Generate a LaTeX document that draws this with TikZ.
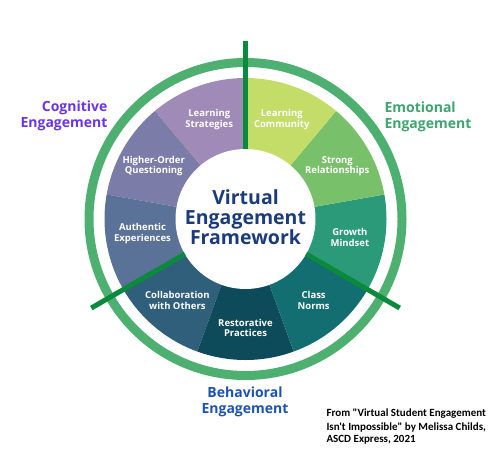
\documentclass[tikz,border=0pt]{standalone}
\usepackage{fontspec}
\setmainfont{Open Sans}
\newfontfamily\citefont{Carlito}
\usepackage{tikz}
\usetikzlibrary{positioning}
\definecolor{lstrat}{HTML}{A08BB8}
\definecolor{hoq}{HTML}{7B7CA8}
\definecolor{authexp}{HTML}{5A7198}
\definecolor{collab}{HTML}{2F5F7A}
\definecolor{restor}{HTML}{0E4B5A}
\definecolor{cnorms}{HTML}{126E70}
\definecolor{growth}{HTML}{2A9A78}
\definecolor{strongrel}{HTML}{79C06A}
\definecolor{lcomm}{HTML}{C4DD68}
\definecolor{ringgreen}{HTML}{4DB070}
\definecolor{divgreen}{HTML}{0B8A3E}
\definecolor{titleblue}{HTML}{1B3B7B}
\definecolor{cogpurple}{HTML}{6B35E5}
\definecolor{emogreen}{HTML}{3DA56F}
\definecolor{behblue}{HTML}{1D52B5}
\tikzset{
  segtext/.style={text=white, align=center, font=\bfseries\fontsize{9.5}{10.5}\selectfont},
  dimension/.style={align=center, font=\bfseries\fontsize{14}{16}\selectfont},
  divider/.style={divgreen, line width=5pt}
}

\begin{document}
\begin{tikzpicture}[x=1pt,y=1pt]
    \useasboundingbox (0,0) rectangle (500,448);
    \coordinate (c) at (245.5,229);
    % wheel segments
    \foreach \a/\col in {90/lstrat,130/hoq,170/authexp,210/collab,250/restor,
                         290/cnorms,330/growth,10/strongrel,50/lcomm}
      \fill [\col] (c) -- ++(\a:141) arc [start angle=\a, end angle=\a+40, radius=141] -- cycle;
    \fill [white] (c) circle [radius=70];
    \draw [ringgreen, line width=9pt] (c) circle [radius=156.5];
    % dividers between the three dimensions
    \foreach \a in {90,-30,-150}
      \draw [divider] ([shift={(\a:70)}]c) -- ([shift={(\a:178)}]c);
    \node [segtext] (ls) at ([shift={(110:106)}]c) {Learning\\Strategies};
    \node [segtext] (ho) at ([shift={(150:106)}]c) {Higher-Order\\Questioning};
    \node [segtext] (ae) at ([shift={(188:104)}]c) {Authentic\\Experiences};
    \node [segtext] (co) at ([shift={(230:106)}]c) {Collaboration\\with Others};
    \node [segtext] (rp) at ([shift={(270:109)}]c) {Restorative\\Practices};
    \node [segtext] (cn) at ([shift={(310:106)}]c) {Class\\Norms};
    \node [segtext] (gm) at ([shift={(350:106)}]c) {Growth\\Mindset};
    \node [segtext] (sr) at ([shift={(30:106)}]c) {Strong\\Relationships};
    \node [segtext] (lc) at ([shift={(70:106)}]c) {Learning\\Community};
    \node [align=center, text=titleblue, font=\bfseries\fontsize{19.5}{20}\selectfont]
      (vef) at ([yshift=2pt]c) {Virtual\\Engagement\\Framework};
    \node [dimension, text=cogpurple, align=right, anchor=east] (cog) at (111,332)
      {Cognitive\\Engagement};
    \node [dimension, text=emogreen, align=left, anchor=west] (emo) at (381,331)
      {Emotional\\Engagement};
    \node [dimension, text=behblue] (beh) at (245,46) {Behavioral\\Engagement};
    \node [align=left, anchor=west, font=\citefont\bfseries\fontsize{11}{13}\selectfont]
      (src) at (323,21)
      {From "Virtual Student Engagement\\Isn't Impossible" by Melissa Childs,\\ASCD Express, 2021};
\end{tikzpicture}
\end{document}
